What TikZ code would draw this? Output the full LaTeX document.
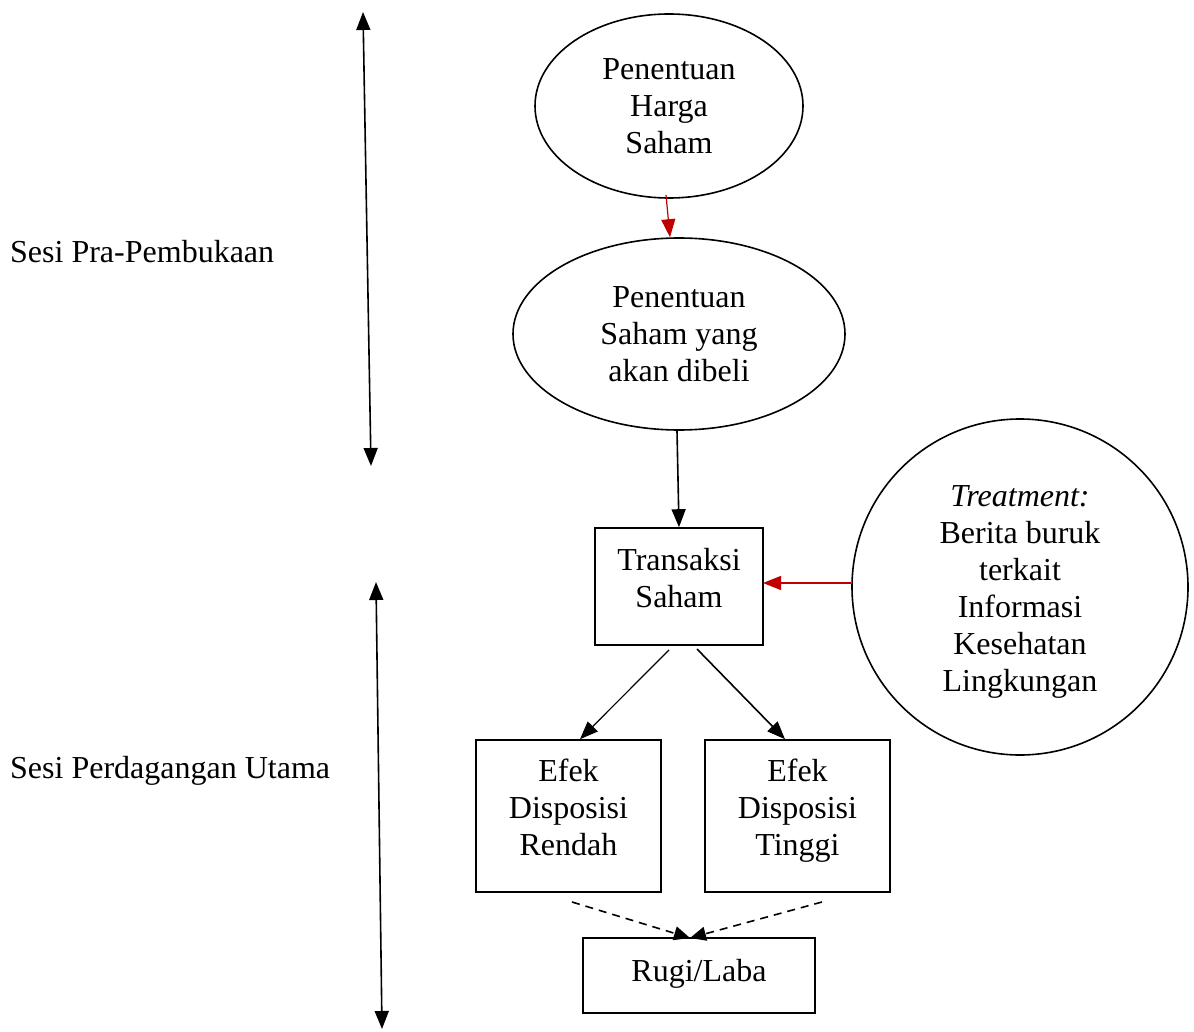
\documentclass[tikz,border=0pt]{standalone}
\usepackage{fontspec}
\setmainfont{Liberation Serif}
\usetikzlibrary{shapes.geometric,arrows.meta}
\begin{document}
\begin{tikzpicture}[x=1pt,y=-1pt,
  every node/.style={font=\fontsize{32}{37}\selectfont, align=center, inner sep=0pt},
  ell/.style={draw, ellipse, line width=1.6pt},
  boxn/.style={draw, rectangle, line width=1.6pt},
  blk/.style={-{Triangle[length=18pt,width=14pt]}, line width=1.6pt},
  dbl/.style={{Triangle[length=18pt,width=14pt]}-{Triangle[length=18pt,width=14pt]}, line width=1.6pt},
  redarr/.style={-{Triangle[length=18pt,width=14pt]}, line width=1.2pt, draw={rgb,255:red,192;green,0;blue,0}, color={rgb,255:red,192;green,0;blue,0}},
  dsh/.style={-{Triangle[length=16pt,width=14pt]}, dashed, dash pattern=on 8pt off 6pt, line width=1.6pt}
]
\useasboundingbox (0,0) rectangle (1194,1032);
\fill[white] (0,0) rectangle (1194,1032);

\node[ell, minimum width=268pt, minimum height=184pt] (e1) at (669,106) {Penentuan\\Harga\\Saham};
\node[ell, minimum width=332pt, minimum height=192pt] (e2) at (679,334) {Penentuan\\Saham yang\\akan dibeli};
\node[boxn, minimum width=168pt, minimum height=117pt] (tr) at (679,586.5) {};
\node (trt) at (679,581.5) {\strut Transaksi\\\strut Saham};
\node[draw, circle, line width=1.6pt, minimum size=336pt] (tc) at (1020,587) {};
\node (tct) at (1020,591.5) {\strut\textit{Treatment:}\\\strut Berita buruk\\\strut terkait\\\strut Informasi\\\strut Kesehatan\\\strut Lingkungan};
\node[boxn, minimum width=185pt, minimum height=152pt] (er) at (568.5,816) {};
\node (ert) at (568.5,811) {\strut Efek\\\strut Disposisi\\\strut Rendah};
\node[boxn, minimum width=185pt, minimum height=152pt] (et) at (797.5,816) {};
\node (ett) at (797.5,811) {\strut Efek\\\strut Disposisi\\\strut Tinggi};
\node[boxn, minimum width=232pt, minimum height=75pt] (rl) at (699,975.5) {};
\node (rlt) at (699,974) {\strut Rugi/Laba};

\node[anchor=west] (l1) at (10,255) {\strut Sesi Pra-Pembukaan};
\node[anchor=west] (l2) at (10,771) {\strut Sesi Perdagangan Utama};

\coordinate (a1) at (363,12);
\coordinate (a2) at (371,466);
\coordinate (b1) at (376,582);
\coordinate (b2) at (382,1029);
\draw[dbl] (a1) -- (a2);
\draw[dbl] (b1) -- (b2);

\draw[redarr] (666,195) -- (e2.north -| 670,0);
\draw[blk] (e2.south -| 677,0) -- (tr.north);
\coordinate (rs) at (851,583);
\coordinate (re) at (763,583);
\draw[redarr] (rs) -- (re);
\draw[blk, line width=1.2pt] (669,650) -- (er.north -| 580,0) ;
\draw[blk] (697,649) -- (et.north -| 785,0);

\coordinate (d1) at (572,902);
\coordinate (d2) at (822,902);
\coordinate (dt) at (690,938);
\draw[dsh] (d1) -- (dt);
\draw[dsh] (d2) -- (dt);
\end{tikzpicture}
\end{document}
